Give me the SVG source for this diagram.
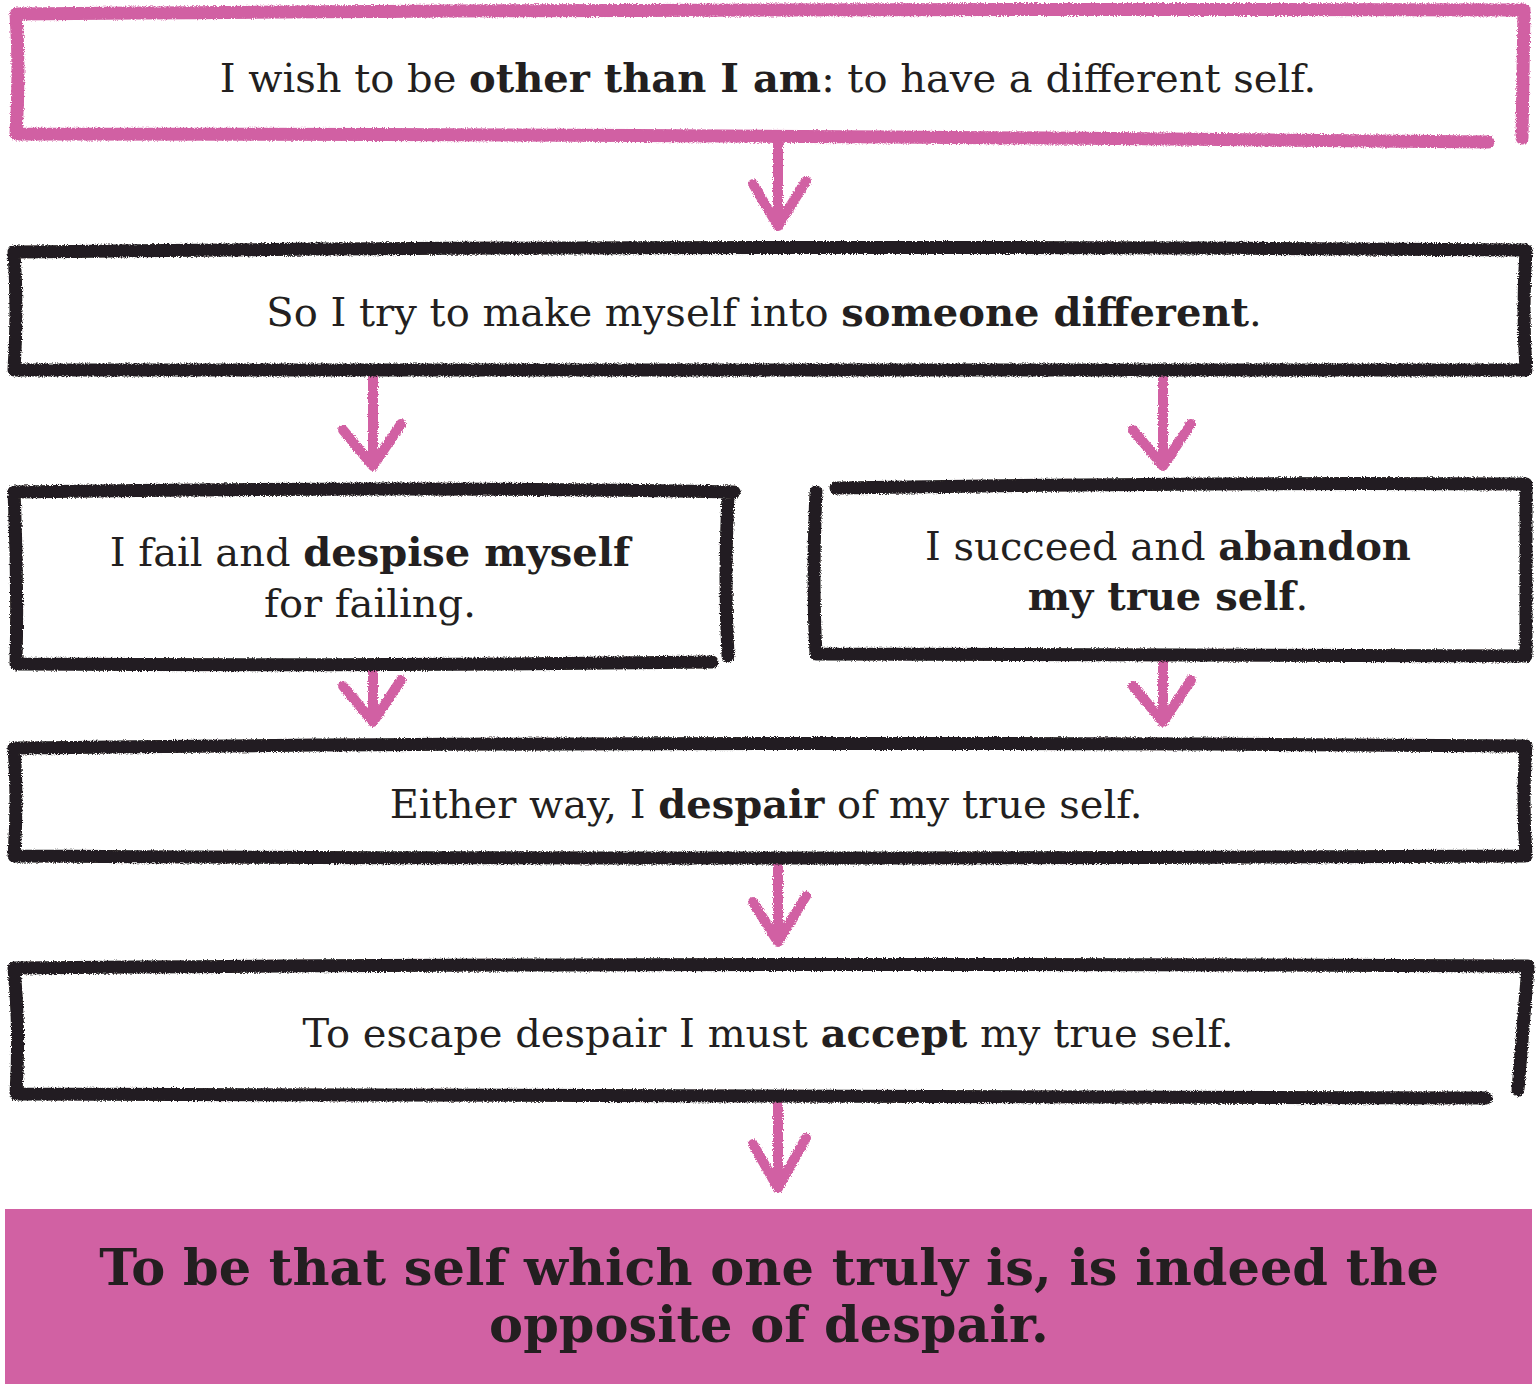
<svg xmlns="http://www.w3.org/2000/svg" width="1536" height="1384" viewBox="0 0 1536 1384">
<defs>
<filter id="rough" x="-2%" y="-10%" width="104%" height="120%">
<feTurbulence type="fractalNoise" baseFrequency="0.9" numOctaves="2" seed="3" result="n"/>
<feDisplacementMap in="SourceGraphic" in2="n" scale="4" xChannelSelector="R" yChannelSelector="G"/>
</filter>
</defs>
<style>
.box{fill:none;stroke:#231F20;stroke-width:13;stroke-linecap:round;stroke-linejoin:round}
.pbox{fill:none;stroke:#D161A3;stroke-width:13;stroke-linecap:round;stroke-linejoin:round}
.arr{fill:none;stroke:#D161A3;stroke-width:10;stroke-linecap:round;stroke-linejoin:round}
.t{font-family:"DejaVu Serif",serif;font-size:40px;fill:#231F20;text-anchor:middle}
.b{font-weight:bold}
.f{font-family:"DejaVu Serif",serif;font-size:51px;font-weight:bold;fill:#231F20;text-anchor:middle}
</style>
<rect width="1536" height="1384" fill="#ffffff"/>
<g id="connectors" filter="url(#rough)">
<path class="arr" d="M778,142 L778,226 M753,184 L778,226 L806,181"/>
<path class="arr" d="M373,378 L373,466 M343,430 L373,466 L401,424"/>
<path class="arr" d="M1163,378 L1163,466 M1133,430 L1163,466 L1191,424"/>
<path class="arr" d="M373,666 L373,722 M343,686 L373,722 L401,680"/>
<path class="arr" d="M1163,660 L1163,722 M1133,686 L1163,722 L1191,680"/>
<path class="arr" d="M778,862 L778,942 M753,902 L778,942 L806,896"/>
<path class="arr" d="M778,1104 L778,1188 M753,1144 L778,1188 L806,1138"/>
</g>
<g id="n1">
<path class="pbox" filter="url(#rough)" d="M16,14 Q700,8 1524,10 L1522,138 M1488,142 Q700,134 16,134 Q20,70 16,14"/>
<text class="t" x="768" y="92">I wish to be <tspan class="b">other than I am</tspan>: to have a different self.</text>
</g>
<g id="n2">
<path class="box" filter="url(#rough)" d="M14,252 Q700,244 1526,250 Q1522,310 1526,370 Q700,372 14,370 Q18,310 14,252"/>
<text class="t" x="764" y="326">So I try to make myself into <tspan class="b">someone different</tspan>.</text>
</g>
<g id="n3">
<path class="box" filter="url(#rough)" d="M14,492 Q400,486 734,492 M728,496 Q724,580 728,656 M712,662 Q400,666 16,664 Q18,580 14,492"/>
<text class="t" x="370" y="566">I fail and <tspan class="b">despise myself</tspan></text>
<text class="t" x="370" y="617">for failing.</text>
</g>
<g id="n4">
<path class="box" filter="url(#rough)" d="M816,492 Q812,580 816,654 Q1200,656 1526,656 L1526,484 Q1200,482 836,488"/>
<text class="t" x="1168" y="560">I succeed and <tspan class="b">abandon</tspan></text>
<text class="t" x="1168" y="610"><tspan class="b">my true self</tspan>.</text>
</g>
<g id="n5">
<path class="box" filter="url(#rough)" d="M14,748 Q700,740 1526,746 Q1522,800 1526,856 Q700,860 14,856 Q18,800 14,748"/>
<text class="t" x="766" y="818">Either way, I <tspan class="b">despair</tspan> of my true self.</text>
</g>
<g id="n6">
<path class="box" filter="url(#rough)" d="M14,968 Q700,962 1528,966 L1518,1090 M1486,1098 Q700,1094 16,1094 Q20,1030 14,968"/>
<text class="t" x="768" y="1047">To escape despair I must <tspan class="b">accept</tspan> my true self.</text>
</g>
<g id="n7">
<rect x="5" y="1209" width="1527" height="175" fill="#D161A3"/>
<text class="f" x="769" y="1285">To be that self which one truly is, is indeed the</text>
<text class="f" x="769" y="1342">opposite of despair.</text>
</g>
</svg>
